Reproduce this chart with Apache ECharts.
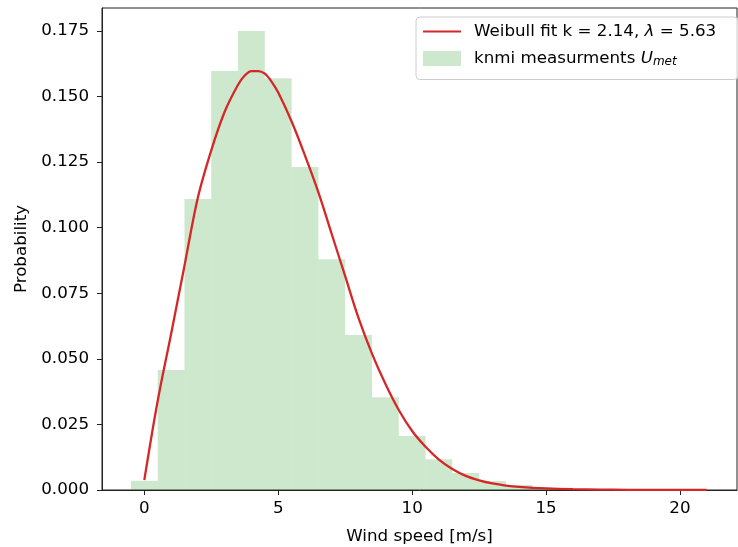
<!DOCTYPE html>
<html>
<head>
<meta charset="utf-8">
<script src="https://cdn.jsdelivr.net/npm/echarts@6/dist/echarts.min.js"></script>
<style>html,body{margin:0;padding:0;background:#fff}#c{width:738px;height:547px}</style>
</head>
<body>
<div id="c"></div>
<script>
// Histogram bins (centers) and probabilities
const binCenters = [0,1,2,3,4,5,6,7,8,9,10,11,12,13,14,15,16,17,18,19,20];
const binProb = [0.0035,0.0457,0.1109,0.1597,0.175,0.157,0.1231,0.088,0.0591,0.0354,0.0206,0.0117,0.0065,0.0034,0.0019,0.0009,0.0004,0.0002,0.0001,0.0001,0.00005];
// Weibull fit curve
const curveX = [0,0.5,1,1.5,2,2.5,3,3.5,3.75,4,4.25,4.5,4.75,5,5.5,6,6.5,7,7.5,8,8.5,9,9.5,10,10.5,11,11.5,12,12.5,13,13.5,14,15,16,17,18,19,20,21];
const curveY = [0.0038,0.034,0.0595,0.0855,0.1115,0.1295,0.1442,0.1545,0.158,0.1597,0.1597,0.1587,0.1557,0.1515,0.1405,0.1275,0.1135,0.0975,0.0815,0.0655,0.052,0.0405,0.0305,0.0225,0.0165,0.0116,0.008,0.0054,0.0037,0.0025,0.0017,0.0012,0.0006,0.0003,0.00015,0.00008,0.00004,0.00002,0.00001];
const xTicks = [0,5,10,15,20];
const yTicks = [0,0.025,0.05,0.075,0.1,0.125,0.15,0.175];
const binWidth = 1;

const FONT = 'DejaVu Sans';
const FS = 16.7;
const chart = echarts.init(document.getElementById('c'));
const histData = binCenters.map((c,i)=>[c, binProb[i]]);
const lineData = curveX.map((x,i)=>[x, curveY[i]]);

chart.setOption({
  animation:false,
  textStyle:{fontFamily:FONT},
  grid:{left:102, top:8, right:1, bottom:57, outerBoundsMode:'none', containLabel:false,
    show:true, borderColor:'#222', borderWidth:1},
  legend:{
    orient:'vertical', left:416, top:17,
    padding:[6,22,12,6], itemGap:10, itemWidth:38, itemHeight:15,
    backgroundColor:'rgba(255,255,255,0.8)', borderColor:'#ccc', borderWidth:1, borderRadius:4,
    textStyle:{fontFamily:FONT, fontSize:FS, color:'#000',
      rich:{
        n:{fontFamily:FONT, fontSize:FS, color:'#000', padding:[0,0,0,8]},
        m:{fontFamily:FONT, fontSize:FS, color:'#000'},
        i:{fontFamily:FONT, fontSize:FS, fontStyle:'italic', color:'#000'},
        s:{fontFamily:FONT, fontSize:12, fontStyle:'italic', color:'#000', verticalAlign:'bottom', padding:[6,0,0,0]}
      }},
    formatter:function(name){
      if(name.indexOf('Weibull')===0) return '{n|Weibull fit k = 2.14, }{i|λ}{m| = 5.63}';
      return '{n|knmi measurments }{i|U}{s|met}';
    },
    data:[{name:'Weibull fit k = 2.14, λ = 5.63', itemStyle:{opacity:0}},{name:'knmi measurments U_met', icon:'rect'}]
  },
  xAxis:{
    type:'value', min:-1.58, max:22.13,
    name:'Wind speed [m/s]', nameLocation:'middle', nameGap:38,
    nameTextStyle:{fontFamily:FONT, fontSize:FS, color:'#000'},
    axisLine:{show:true, onZero:false, lineStyle:{color:'#222', width:1}},
    axisTick:{show:true, length:5, lineStyle:{color:'#222'}, customValues:xTicks},
    axisLabel:{color:'#000', fontFamily:FONT, fontSize:FS, margin:10, customValues:xTicks},
    splitLine:{show:false}
  },
  yAxis:{
    type:'value', min:0, max:0.18375,
    name:'Probability', nameLocation:'middle', nameGap:72,
    nameTextStyle:{fontFamily:FONT, fontSize:FS, color:'#000'},
    axisLine:{show:true, onZero:false, lineStyle:{color:'#222', width:1}},
    axisTick:{show:true, length:5, lineStyle:{color:'#222'}, customValues:yTicks},
    axisLabel:{color:'#000', fontFamily:FONT, fontSize:FS, margin:13, customValues:yTicks,
      formatter:function(v){return v.toFixed(3);}},
    splitLine:{show:false}
  },
  series:[
    {
      name:'knmi measurments U_met', type:'custom', z:1,
      itemStyle:{color:'rgba(44,160,44,0.24)'},
      data:histData,
      renderItem:function(params, api){
        const c = api.value(0), v = api.value(1);
        const p0 = api.coord([c - binWidth/2, v]);
        const p1 = api.coord([c + binWidth/2, 0]);
        return {type:'rect', shape:{x:p0[0], y:p0[1], width:p1[0]-p0[0], height:p1[1]-p0[1]},
          style:{fill:'rgba(44,160,44,0.24)'}};
      }
    },
    {
      name:'Weibull fit k = 2.14, λ = 5.63', type:'line', z:3,
      data:lineData, smooth:0.35, symbol:'none',
      lineStyle:{color:'#d62728', width:2.3}, itemStyle:{color:'#d62728'}
    }
  ]
});
</script>
</body>
</html>
